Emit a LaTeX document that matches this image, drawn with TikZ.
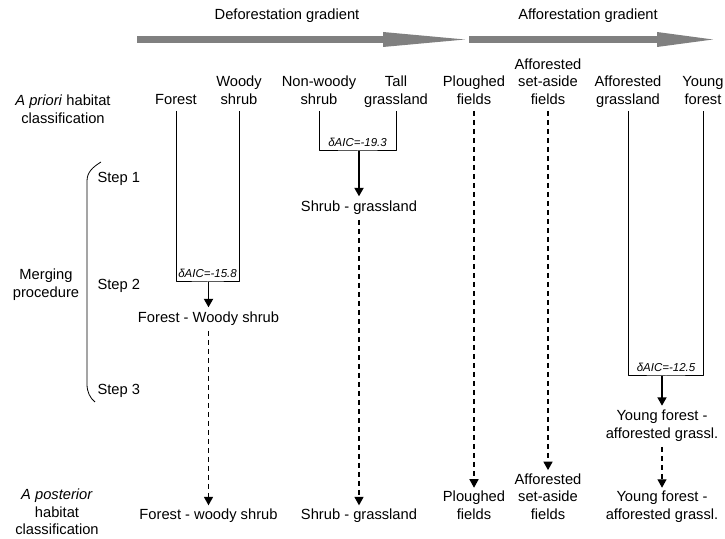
\documentclass[tikz,border=0pt]{standalone}
\usepackage{fontspec}
\setmainfont{Liberation Sans}
\usetikzlibrary{arrows.meta}
\definecolor{gradgray}{RGB}{128,128,128}

\begin{document}
\begin{tikzpicture}[>={Triangle[length=8.5bp,width=9bp]},line join=bevel,
  every node/.style={font=\fontsize{14.7bp}{17.6bp}\selectfont},
  habitat/.style={align=center,inner xsep=0pt,inner ysep=2bp,text depth=4bp,anchor=south},
  merged/.style={align=center,inner xsep=0pt,inner ysep=4bp,text depth=4bp,anchor=south},
  final/.style={align=center,inner xsep=0pt,inner ysep=3bp,text depth=4bp,anchor=south},
  aic/.style={font=\fontsize{11.5bp}{13bp}\selectfont\itshape,inner sep=3.5bp,anchor=south},
  steplabel/.style={anchor=base west,inner sep=0pt},
  merge/.style={line width=1.8bp},
  keep/.style={line width=1.4bp,dash pattern=on 5bp off 4bp},
  gradient/.style={line width=7bp,draw=gradgray},
  ]
  \pgfsetlinewidth{1bp}
  \useasboundingbox (0bp,0bp) rectangle (725bp,539bp);
%%
  % Gradients
  \node[anchor=base] (defgrad) at (287bp,519bp) {Deforestation gradient};
  \node[anchor=base] (affgrad) at (588bp,519bp) {Afforestation gradient};
  \coordinate (defstart) at (137bp,499.5bp);
  \coordinate (defend) at (465bp,499.5bp);
  \coordinate (affstart) at (469bp,499.5bp);
  \coordinate (affend) at (713bp,499.5bp);
  \draw [gradient,-{Triangle[length=82bp,width=15bp,line width=0pt 0]}] (defstart) -- (defend);
  \draw [gradient,-{Triangle[length=56bp,width=15bp,line width=0pt 0]}] (affstart) -- (affend);
  % Row labels
  \node[align=center,inner sep=0pt] (apriori) at (63bp,430bp) {\textit{A priori} habitat\\classification};
  \node[align=center,inner sep=0pt] (merging) at (46bp,254bp) {Merging\\procedure};
  \node[align=center,inner sep=0pt] (aposterior) at (57bp,27bp) {\textit{A posterior}\\habitat\\classification};
  \node[steplabel] (step1) at (97bp,356bp) {Step 1};
  \node[steplabel] (step2) at (97bp,249bp) {Step 2};
  \node[steplabel] (step3) at (97bp,144bp) {Step 3};
  \draw [line width=0.8bp] (101bp,377bp) .. controls (93bp,372bp) and (87bp,367bp) .. (87bp,358bp) -- (87bp,155bp) .. controls (87bp,147bp) and (90bp,141bp) .. (95bp,137bp);
  % Node: Forest
  \node[habitat] (forest) at (176bp,428bp) {Forest};
  % Node: Woody shrub
  \node[habitat] (woody) at (239bp,428bp) {Woody\\shrub};
  % Node: Non-woody shrub
  \node[habitat] (nonwoody) at (319bp,428bp) {Non-woody\\shrub};
  % Node: Tall grassland
  \node[habitat] (tall) at (396bp,428bp) {Tall\\grassland};
  % Node: Ploughed fields
  \node[habitat] (ploughed) at (474bp,428bp) {Ploughed\\fields};
  % Node: Afforested set-aside fields
  \node[habitat] (setaside) at (548bp,428bp) {Afforested\\set-aside\\fields};
  % Node: Afforested grassland
  \node[habitat] (affgrass) at (628bp,428bp) {Afforested\\grassland};
  % Node: Young forest
  \node[habitat] (young) at (703bp,428bp) {Young\\forest};
  % Merges
  \node[aic] (aic1) at (357.5bp,388bp) {δAIC=-19.3};
  \node[aic] (aic2) at (207.5bp,257bp) {δAIC=-15.8};
  \node[aic] (aic3) at (666bp,163bp) {δAIC=-12.5};
  \node[merged] (shrubgrass) at (359bp,319bp) {Shrub - grassland};
  \node[merged] (forestwoody) at (208.5bp,208bp) {Forest - Woody shrub};
  \node[merged] (youngaff) at (662bp,92bp) {Young forest -\\afforested grassl.};
  % Final classes
  \node[final] (fwfinal) at (208.5bp,12bp) {Forest - woody shrub};
  \node[final] (sgfinal) at (359bp,12bp) {Shrub - grassland};
  \node[final] (plfinal) at (474bp,12bp) {Ploughed\\fields};
  \node[final] (safinal) at (548bp,12bp) {Afforested\\set-aside\\fields};
  \node[final] (yafinal) at (662bp,12bp) {Young forest -\\afforested grassl.};
  % Edge: Non-woody shrub -> Tall grassland
  \draw (nonwoody.south) |- (aic1.south) -| (tall.south);
  \draw [->,merge] (aic1.south -| shrubgrass) -- (shrubgrass.north);
  % Edge: Forest -> Woody shrub
  \draw (forest.south) |- (aic2.south) -| (woody.south);
  \draw [->,merge] (aic2.south -| forestwoody) -- (forestwoody.north);
  % Edge: Afforested grassland -> Young forest
  \draw (affgrass.south) |- (aic3.south) -| (young.south);
  \draw [->,merge] (aic3.south -| youngaff) -- (youngaff.north);
  % Edge: kept classes
  \draw [->,keep] (forestwoody.south) -- (fwfinal.north);
  \draw [->,keep] (shrubgrass.south) -- (sgfinal.north);
  \draw [->,keep] (ploughed.south) -- (plfinal.north);
  \draw [->,keep] (setaside.south) -- (safinal.north);
  \draw [->,keep] (youngaff.south) -- (yafinal.north);
%
\end{tikzpicture}
\end{document}
